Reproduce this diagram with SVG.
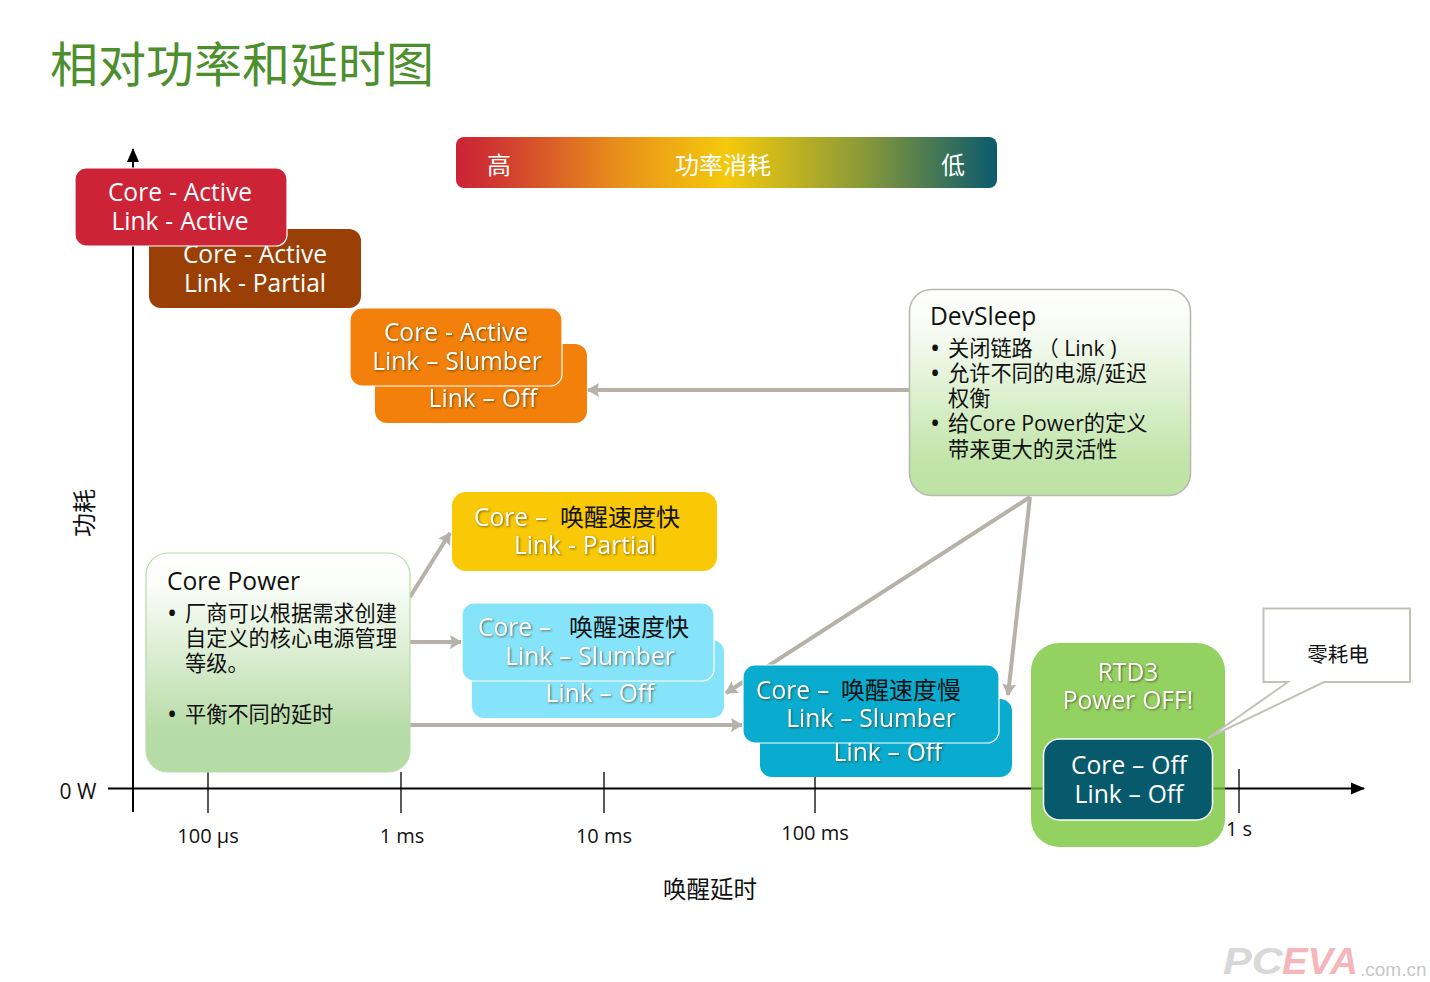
<svg xmlns="http://www.w3.org/2000/svg" width="1430" height="982" viewBox="0 0 1430 982">
<style>
text{font-family:"Open Sans","Noto Sans CJK SC",sans-serif}
.cjk{font-family:"Noto Sans CJK SC",sans-serif}
.w{fill:#fff;font-size:24.6px;text-anchor:middle;word-spacing:.5px}
.s{filter:drop-shadow(1.5px 1.5px 1px rgba(60,40,0,.6))}
.b{fill:#111;font-size:21.2px}
.d{fill:#111;font-size:27px}
.h{fill:#111;font-size:24.6px}
.t{fill:#111;font-size:20px;text-anchor:middle}
.ax{stroke:#000;stroke-width:2;fill:none}
.tk{stroke:#000;stroke-width:1.3;fill:none}
.cn{stroke:#b6b1a9;stroke-width:4;fill:none;marker-end:url(#ga)}
.f{stroke:#fff;stroke-width:1.2}
.wm{font-family:"Liberation Sans",sans-serif}
</style>
<defs>
<marker id="ga" markerUnits="userSpaceOnUse" markerWidth="12" markerHeight="14" refX="11" refY="7" orient="auto"><path d="M0,0L12,7L0,14L2,7Z" fill="#b6b1a9"/></marker>
<marker id="ka" markerUnits="userSpaceOnUse" markerWidth="14" markerHeight="14" refX="13" refY="7" orient="auto"><path d="M0,1L14,7L0,13Z" fill="#000"/></marker>
<linearGradient id="bar"><stop offset="0" stop-color="#cc2337"/><stop offset=".08" stop-color="#d03a30"/><stop offset=".3" stop-color="#e88f1b"/><stop offset=".5" stop-color="#f5c90b"/><stop offset=".75" stop-color="#8a9a38"/><stop offset="1" stop-color="#0b5a6d"/></linearGradient>
<linearGradient id="gp" x1="0" y1="0" x2="0" y2="1"><stop offset="0" stop-color="#fff"/><stop offset=".15" stop-color="#fafdf8"/><stop offset=".8" stop-color="#b8dca8"/><stop offset="1" stop-color="#b6dba5"/></linearGradient>
<linearGradient id="gd" x1="0" y1="0" x2="0" y2="1"><stop offset="0" stop-color="#fff"/><stop offset=".2" stop-color="#f6fbf3"/><stop offset=".85" stop-color="#c0e4a8"/><stop offset="1" stop-color="#bde3a4"/></linearGradient>
</defs>

<text class="cjk" x="50" y="82" font-size="48" fill="#4c8f2c">相对功率和延时图</text>

<g id="axes">
<path class="ax" d="M133,812V149" marker-end="url(#ka)"/>
<path class="ax" d="M108,788.5H1364" marker-end="url(#ka)"/>
<path class="tk" d="M208,772V813M401,772V813M604,772V813M815,772V813M1239,769V813"/>
<text class="cjk" transform="translate(93,513) rotate(-90)" font-size="24" fill="#111" text-anchor="middle">功耗</text>
<text x="78" y="799" font-size="21" fill="#111" text-anchor="middle">0 W</text>
<text class="t" x="208" y="843">100 µs</text>
<text class="t" x="402" y="843">1 ms</text>
<text class="t" x="604" y="843">10 ms</text>
<text class="t" x="815" y="840">100 ms</text>
<text class="t" x="1239" y="836">1 s</text>
<text class="cjk" x="710" y="898" font-size="23.5" fill="#111" text-anchor="middle">唤醒延时</text>
</g>

<g id="power-bar">
<rect x="456" y="137" width="541" height="51" rx="8" fill="url(#bar)"/>
<text class="w cjk" x="499" y="174" style="font-size:24px">高</text>
<text class="w cjk" x="723" y="174" style="font-size:24px">功率消耗</text>
<text class="w cjk" x="953" y="174" style="font-size:24px">低</text>
</g>

<g id="connectors">
<path class="cn" d="M909,390H588"/>
<path class="cn" d="M410,597L450,533"/>
<path class="cn" d="M410,642H461"/>
<path class="cn" d="M410,725H742"/>
<path class="cn" d="M1030,497L726,693"/>
<path class="cn" d="M1030,497L1008,695"/>
</g>

<g id="core-active-link-partial">
<rect x="149" y="229" width="212" height="79" rx="12" fill="#9a3f06"/>
<text class="w" x="255" y="263">Core - Active</text>
<text class="w" x="255" y="292">Link - Partial</text>
</g>
<g id="core-active-link-active">
<rect class="f" x="75" y="168" width="212" height="78" rx="11" fill="#cc2337"/>
<text class="w" x="180" y="201">Core - Active</text>
<text class="w" x="180" y="230">Link - Active</text>
</g>
<g id="link-off-orange">
<rect x="375" y="344" width="212" height="79" rx="12" fill="#f2800a"/>
<text class="w s" x="483" y="407">Link – Off</text>
</g>
<g id="core-active-link-slumber">
<rect class="f" x="350" y="308" width="212" height="78" rx="12" fill="#f2800a"/>
<text class="w s" x="456" y="341">Core - Active</text>
<text class="w s" x="457" y="370">Link – Slumber</text>
</g>
<g id="core-fast-link-partial">
<rect x="452" y="492" width="265" height="79" rx="14" fill="#f9c806"/>
<text class="w s" x="474" y="526" style="text-anchor:start">Core –</text>
<text class="cjk" x="560" y="526" font-size="24" fill="#111">唤醒速度快</text>
<text class="w s" x="585" y="554">Link - Partial</text>
</g>
<g id="link-off-light">
<rect x="472" y="640" width="252" height="78" rx="12" fill="#86e4fa"/>
<text class="w s" x="600" y="702">Link – Off</text>
</g>
<g id="core-fast-link-slumber">
<rect class="f" x="462" y="603" width="252" height="78" rx="12" fill="#86e4fa"/>
<text class="w s" x="478" y="636" style="text-anchor:start">Core –</text>
<text class="cjk" x="569" y="636" font-size="24" fill="#111">唤醒速度快</text>
<text class="w s" x="590" y="665">Link – Slumber</text>
</g>
<g id="link-off-teal">
<rect x="760" y="699" width="252" height="78" rx="12" fill="#09abcf"/>
<text class="w s" x="888" y="761">Link – Off</text>
</g>
<g id="core-slow-link-slumber">
<rect class="f" x="743" y="665" width="256" height="78" rx="12" fill="#09abcf"/>
<text class="w s" x="756" y="699" style="text-anchor:start">Core –</text>
<text class="cjk" x="841" y="699" font-size="24" fill="#111">唤醒速度慢</text>
<text class="w s" x="871" y="727">Link – Slumber</text>
</g>

<g id="core-power">
<rect x="146" y="553" width="264" height="219" rx="22" fill="url(#gp)" stroke="#b8dca8" stroke-width="1.2"/>
<text class="h" x="167" y="590">Core Power</text>
<text class="d" x="167" y="623">•</text>
<text class="b cjk" x="185" y="621">厂商可以根据需求创建</text>
<text class="b cjk" x="185" y="646">自定义的核心电源管理</text>
<text class="b cjk" x="185" y="671">等级。</text>
<text class="d" x="167" y="724">•</text>
<text class="b cjk" x="185" y="722">平衡不同的延时</text>
</g>

<g id="devsleep">
<rect x="909.5" y="289.5" width="281" height="206" rx="22" fill="url(#gd)" stroke="#b9b8b0" stroke-width="1.6"/>
<text class="h" x="930" y="325">DevSleep</text>
<text class="d" x="930" y="358">•</text>
<text class="b" x="948" y="356"><tspan class="cjk">关闭链路 （</tspan><tspan> Link )</tspan></text>
<text class="d" x="930" y="383">•</text>
<text class="b cjk" x="948" y="381">允许不同的电源/延迟</text>
<text class="b cjk" x="948" y="406">权衡</text>
<text class="d" x="930" y="433">•</text>
<text class="b" x="948" y="431"><tspan class="cjk">给</tspan>Core Power<tspan class="cjk">的定义</tspan></text>
<text class="b cjk" x="948" y="457">带来更大的灵活性</text>
</g>

<g id="rtd3">
<rect x="1031" y="643" width="194" height="204" rx="28" fill="#93d161"/>
<path d="M1031,788.5H1043M1213,788.5H1225" stroke="#5d9a2e" stroke-width="2"/>
<text class="w s" x="1128" y="681">RTD3</text>
<text class="w s" x="1128" y="709">Power OFF!</text>
</g>

<g id="callout">
<path d="M1263.5,608.5H1410V682H1324L1208,738L1288,682H1263.5Z" fill="#fff" stroke="#c4c1b9" stroke-width="2"/>
<text class="cjk" x="1338" y="662" font-size="20.5" fill="#111" text-anchor="middle">零耗电</text>
</g>

<g id="core-off-link-off">
<rect x="1043.5" y="739" width="169" height="81" rx="16" fill="#075a6b" stroke="#fff" stroke-width="1.5"/>
<text class="w" x="1129" y="774">Core – Off</text>
<text class="w" x="1129" y="803">Link – Off</text>
</g>

<g id="watermark">
<text class="wm" x="1223" y="974" font-weight="700" font-style="italic" font-size="37" fill="#d8d8d8" textLength="60" lengthAdjust="spacingAndGlyphs">PC</text>
<text class="wm" x="1282" y="974" font-weight="700" font-style="italic" font-size="37" fill="#f4b6ba" textLength="76" lengthAdjust="spacingAndGlyphs">EVA</text>
<text class="wm" x="1360" y="976" font-size="19" fill="#c8c8c8">.com.cn</text>
</g>
</svg>
